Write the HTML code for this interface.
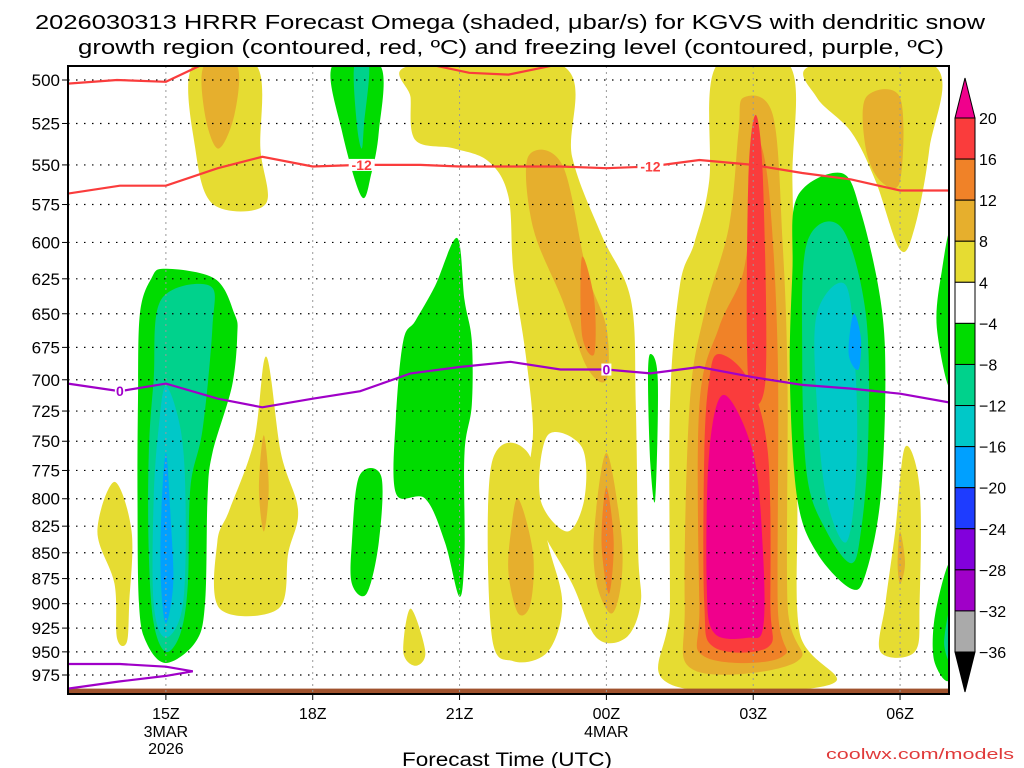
<!DOCTYPE html>
<html><head><meta charset="utf-8"><style>
html,body{margin:0;padding:0;background:#fff;width:1024px;height:768px;overflow:hidden}
svg{display:block;font-family:"Liberation Sans","DejaVu Sans",sans-serif}
</style></head><body>
<svg id="chart" width="1024" height="768" viewBox="0 0 1024 768" xmlns="http://www.w3.org/2000/svg">
<text x="35" y="29" font-size="20" textLength="950" lengthAdjust="spacingAndGlyphs" fill="#000">2026030313 HRRR Forecast Omega (shaded, μbar/s) for KGVS with dendritic snow</text>
<text x="78" y="54" font-size="20" textLength="866" lengthAdjust="spacingAndGlyphs" fill="#000">growth region (contoured, red, ºC) and freezing level (contoured, purple, ºC)</text>
<g id="fills"></g>
<g id="grid"></g>
<g id="lines"></g>
<rect x="68" y="66" width="881" height="628" fill="none" stroke="#000" stroke-width="2"/>
<g id="axes"></g>
<g id="cbar"></g>
<text x="402" y="766" font-size="19" textLength="210" lengthAdjust="spacingAndGlyphs" fill="#000">Forecast Time (UTC)</text>
<text x="826" y="759" font-size="15" textLength="188" lengthAdjust="spacingAndGlyphs" fill="#e03a3a">coolwx.com/models</text>
</svg>
<script>
// axis domain
const hourMin = 13, hourMax = 31;
const presTop = 492, presBot = 996;
const pressureTicks = [500,525,550,575,600,625,650,675,700,725,750,775,800,825,850,875,900,925,950,975];
const timeTicks = [15,18,21,24,27,30];
const timeLabels = ["15Z","18Z","21Z","00Z","03Z","06Z"];
const dateLabels = {15:["3MAR","2026"],24:["4MAR"]};
const cbarLevels = [20,16,12,8,4,-4,-8,-12,-16,-20,-24,-28,-32,-36];
const cbarColors = ["#fa3c3c","#f08228","#e6af2d","#e6dc32","#ffffff","#00dc00","#00d28c","#00c8c8","#00a0ff","#1e3cff","#8200dc","#a000c8","#aaaaaa"];

// shaded regions [hour, pressure]
const yellowRegions = [
 [[15.55,492],[16.85,492],[16.93,540],[17.03,575],[15.97,575],[15.6,540]],
 [[13.95,785],[14.3,830],[14.25,900],[14.2,940],[14.0,935],[13.95,880],[13.6,830]],
 [[17.05,682],[17.35,760],[17.7,810],[17.5,850],[17.3,905],[16.1,905],[16.05,840],[16.3,810],[16.8,750]],
 [[20.0,905],[20.3,950],[20.1,965],[19.85,950]],
 [[20.0,492],[23.1,492],[23.3,545],[23.9,595],[24.5,640],[24.6,720],[24.65,850],[24.7,900],[24.4,935],[23.8,935],[23.3,880],[22.7,830],[22.4,790],[22.5,740],[22.35,680],[22.1,620],[22.0,570],[21.6,548],[20.9,540],[20.1,535],[20.0,510]],
 [[21.65,770],[22.4,760],[22.8,840],[23.1,900],[22.8,950],[22.1,960],[21.65,930]],
 [[26.25,492],[27.75,492],[27.8,560],[27.85,650],[27.9,800],[27.95,930],[28.6,985],[25.3,985],[25.3,900],[25.3,720],[25.5,630],[25.8,600],[26.1,560]],
 [[28.2,492],[30.7,492],[30.6,540],[30.3,590],[30.0,605],[29.5,560],[29.0,530],[28.3,510]],
 [[30.1,755],[30.4,790],[30.4,900],[30.3,950],[29.6,950],[29.7,900],[29.9,830]]
];
const whiteHoles = [
 [[22.8,745],[23.5,755],[23.55,800],[23.2,830],[22.65,800]]
];
const lightOrangeRegions = [
 [[15.78,492],[16.45,492],[16.4,520],[16.07,540],[15.8,520]],
 [[17.0,745],[17.1,790],[17.0,830],[16.9,790]],
 [[22.4,545],[23.1,550],[23.6,620],[24.0,660],[24.0,700],[23.6,690],[23.1,640],[22.5,590]],
 [[24.0,760],[24.3,830],[24.3,880],[24.1,910],[23.8,880],[23.75,830]],
 [[22.2,800],[22.5,850],[22.45,900],[22.2,910],[22.0,870],[22.05,830]],
 [[26.8,510],[27.4,520],[27.6,600],[27.7,700],[27.7,900],[27.9,960],[25.8,970],[25.6,900],[25.7,720],[26.0,650],[26.5,590],[26.7,530]],
 [[29.3,510],[30.0,510],[30.0,560],[29.6,560],[29.3,540]],
 [[30.0,830],[30.1,860],[30.0,880],[29.95,860]]
];
const orangeRegions = [
 [[23.5,610],[23.75,640],[23.75,680],[23.5,665]],
 [[24.0,790],[24.15,840],[24.05,890],[23.9,840]],
 [[27.0,530],[27.3,560],[27.5,680],[27.5,900],[27.6,955],[26.0,955],[25.9,900],[25.9,720],[26.3,660],[26.8,620],[26.95,570]]
];
const redRegions = [
 [[26.3,680],[26.9,700],[27.3,760],[27.35,900],[27.3,945],[26.2,945],[26.0,900],[26.0,760],[26.1,700]],
 [[27.05,520],[27.2,560],[27.25,700],[26.9,700],[26.9,560]]
];
const magentaRegions = [
 [[26.4,712],[27.0,760],[27.2,850],[27.2,925],[26.9,935],[26.2,930],[26.05,880],[26.1,760]]
];
const greenRegions = [
 [[14.98,618],[16.0,625],[16.4,650],[16.46,665],[16.35,705],[15.95,760],[15.85,800],[15.8,900],[15.6,940],[15.0,962],[14.6,940],[14.45,900],[14.42,800],[14.43,715],[14.47,650],[14.7,625]],
 [[18.4,492],[19.38,492],[19.35,530],[19.2,555],[19.0,570],[18.6,530]],
 [[20.95,597],[21.1,640],[21.25,670],[21.25,720],[21.1,760],[21.1,850],[21.0,893],[20.7,840],[20.3,800],[19.7,795],[19.7,730],[19.85,670],[20.1,655],[20.5,630]],
 [[18.95,780],[19.4,780],[19.35,840],[19.1,890],[18.8,880],[18.8,840]],
 [[24.9,680],[25.05,700],[25.0,800],[24.9,770],[24.85,700]],
 [[27.9,570],[28.8,555],[29.2,580],[29.6,640],[29.7,700],[29.6,800],[29.3,870],[29.0,885],[28.3,850],[27.9,800],[27.75,700],[27.8,620]],
 [[31.05,595],[31.05,705],[30.75,660],[30.85,620]],
 [[31.05,860],[31.05,975],[30.7,960],[30.72,910]]
];
const tealRegions = [
 [[14.9,640],[15.9,630],[15.95,660],[15.75,740],[15.5,790],[15.45,880],[15.3,930],[15.0,950],[14.75,920],[14.65,850],[14.65,760],[14.75,700]],
 [[18.85,492],[19.15,492],[19.05,525],[19.0,540],[18.9,525]],
 [[28.1,600],[28.8,590],[29.3,650],[29.35,750],[29.2,830],[29.0,860],[28.5,830],[28.1,780],[28.0,680]],
 [[31.05,900],[31.05,960],[30.9,940]]
];
const cyanRegions = [
 [[15.0,705],[15.3,740],[15.4,800],[15.35,900],[15.0,935],[14.75,900],[14.75,800],[14.85,740]],
 [[28.3,650],[28.9,630],[29.1,700],[29.1,780],[28.9,840],[28.5,800],[28.3,720]]
];
const blueRegions = [
 [[15.0,760],[15.1,820],[15.15,880],[15.0,920],[14.9,880],[14.9,820]],
 [[29.05,650],[29.2,668],[29.15,692],[28.95,680]]
];
// contour lines
const dgzUpper = [[13,502],[14,500],[15,501],[15.7,492]];
const dgzUpper2 = [[20.5,492],[21.2,496],[22.0,497],[22.9,492]];
const dgzUpper3 = [[28.3,492],[29.5,492],[31,490]];
const dgzLower = [[13,568],[14.06,563],[15,563],[16.06,552],[16.97,545],[18,551],[18.97,550],[20.2,550],[21,551],[23.06,551],[24,552],[24.9,551],[25.9,547],[27,550],[28,555],[29,559],[30,566],[31,566]];
const frzLevel = [[13,703],[14.06,709],[15,703],[16.06,715],[16.97,722],[18,715],[18.97,709],[20,695],[21,690],[22.04,686],[23.06,692],[24,692],[24.9,695],[25.9,690],[27,698],[28,704],[29,707],[30,711],[31,718]];
const frzLower = [[13,963],[14.06,963],[15,966],[15.55,971],[15,976],[14.06,982],[13,990]];
const lineLabels = [["-12",19.0,550,"#fa3c3c"],["-12",24.9,551,"#fa3c3c"],["0",14.06,709,"#a000c8"],["0",24,692,"#a000c8"]];

const X0=68,X1=949,Y500=80,Y975=675;
const xs = h => X0 + (h-hourMin)/(hourMax-hourMin)*(X1-X0);
const ys = p => Y500 + (Math.log(p)-Math.log(500))/(Math.log(975)-Math.log(500))*(Y975-Y500);
const NS="http://www.w3.org/2000/svg";
function mk(tag,attrs,parent){const e=document.createElementNS(NS,tag);for(const k in attrs)e.setAttribute(k,attrs[k]);parent.appendChild(e);return e;}
function smoothClosed(pts){
  const P=pts.map(d=>[xs(d[0]),ys(d[1])]);const n=P.length;let s=`M${P[0][0].toFixed(1)},${P[0][1].toFixed(1)}`;
  for(let i=0;i<n;i++){const p0=P[(i-1+n)%n],p1=P[i],p2=P[(i+1)%n],p3=P[(i+2)%n];
    s+=`C${(p1[0]+(p2[0]-p0[0])/6).toFixed(1)},${(p1[1]+(p2[1]-p0[1])/6).toFixed(1)} ${(p2[0]-(p3[0]-p1[0])/6).toFixed(1)},${(p2[1]-(p3[1]-p1[1])/6).toFixed(1)} ${p2[0].toFixed(1)},${p2[1].toFixed(1)}`;}
  return s+"Z";
}
function polyline(pts){return pts.map((d,i)=>(i?"L":"M")+xs(d[0]).toFixed(1)+","+ys(d[1]).toFixed(1)).join("");}

const svg=document.getElementById('chart');
const defs=mk('defs',{},svg);
const cp=mk('clipPath',{id:'plotclip'},defs);
mk('rect',{x:X0,y:66,width:X1-X0,height:628},cp);
const fills=document.getElementById('fills');
fills.setAttribute('clip-path','url(#plotclip)');
const layers=[[yellowRegions,"#e6dc32","yellow-region"],[whiteHoles,"#ffffff","white-gap"],[lightOrangeRegions,"#e6af2d","light-orange-region"],[orangeRegions,"#f08228","orange-region"],[redRegions,"#fa3c3c","red-region"],[magentaRegions,"#f0008c","magenta-region"],[greenRegions,"#00dc00","green-region"],[tealRegions,"#00d28c","teal-region"],[cyanRegions,"#00c8c8","cyan-region"],[blueRegions,"#00a0ff","blue-region"]];
layers.forEach(([arr,col,name])=>arr.forEach(poly=>{
  const e=mk('path',{d:smoothClosed(poly),fill:col},fills);
  
  
}));
const ground=mk('rect',{x:X0,y:ys(990),width:X1-X0,height:694-ys(990),fill:"#a0522d"},fills);



const grid=document.getElementById('grid');
pressureTicks.forEach(p=>{
  const e=mk('line',{x1:X0,x2:X1,y1:ys(p),y2:ys(p),stroke:"#000","stroke-width":1.2,"stroke-dasharray":"1.5 6.5"},grid);
  
  
});
timeTicks.forEach(h=>{
  const e=mk('line',{x1:xs(h),x2:xs(h),y1:66,y2:694,stroke:"#999","stroke-width":1,"stroke-dasharray":"2 4"},grid);
  
  
});

const lines=document.getElementById('lines');
lines.setAttribute('clip-path','url(#plotclip)');
[[dgzUpper,"#fa3c3c"],[dgzUpper2,"#fa3c3c"],[dgzUpper3,"#fa3c3c"],[dgzLower,"#fa3c3c"],[frzLevel,"#a000c8"],[frzLower,"#a000c8"]].forEach(([pts,c])=>{
  const e=mk('path',{d:polyline(pts),fill:"none",stroke:c,"stroke-width":2.2},lines);
  
  
});
lineLabels.forEach(([t,h,p,c])=>{
  const w=t.length*8+2;
  mk('rect',{x:xs(h)-w/2,y:ys(p)-6,width:w,height:12,fill:"#fff"},lines);
  const e=mk('text',{x:xs(h),y:ys(p)+5,"font-size":14,"font-weight":"bold","text-anchor":"middle",fill:c},lines);
  e.textContent=t;
  
  
});

const axes=document.getElementById('axes');
pressureTicks.forEach(p=>{
  const e=mk('text',{x:60,y:ys(p)+6,"font-size":17,"text-anchor":"end",fill:"#000"},axes);
  e.textContent=p;
  
  
  mk('line',{x1:62,x2:X0,y1:ys(p),y2:ys(p),stroke:"#000"},axes);
});
timeTicks.forEach((h,i)=>{
  mk('line',{x1:xs(h),x2:xs(h),y1:694,y2:700,stroke:"#000"},axes);
  const e=mk('text',{x:xs(h),y:719,"font-size":16,"text-anchor":"middle",fill:"#000"},axes);
  e.textContent=timeLabels[i];
  
  
  (dateLabels[h]||[]).forEach((d,j)=>{
    const t=mk('text',{x:xs(h),y:737+j*17,"font-size":16,"text-anchor":"middle",fill:"#000"},axes);
    t.textContent=d;
    
    
  });
});

const cbar=document.getElementById('cbar');
const cx=955,cw=20,ctop=118,cbot=652,ch=(cbot-ctop)/cbarColors.length;
const up=mk('polygon',{points:`${cx},${ctop} ${cx+cw/2},78 ${cx+cw},${ctop}`,fill:"#f0008c",stroke:"#000"},cbar);


cbarColors.forEach((c,i)=>{
  const e=mk('rect',{x:cx,y:ctop+i*ch,width:cw,height:ch,fill:c,stroke:"#000","stroke-width":1},cbar);
  
  
});
const dn=mk('polygon',{points:`${cx},${cbot} ${cx+cw/2},692 ${cx+cw},${cbot}`,fill:"#000",stroke:"#000"},cbar);


cbarLevels.forEach((v,i)=>{
  const e=mk('text',{x:979,y:ctop+i*ch+6,"font-size":16,fill:"#000"},cbar);
  e.textContent=(v<0?"−":"")+Math.abs(v);
  
  
});
</script>
</body></html>
